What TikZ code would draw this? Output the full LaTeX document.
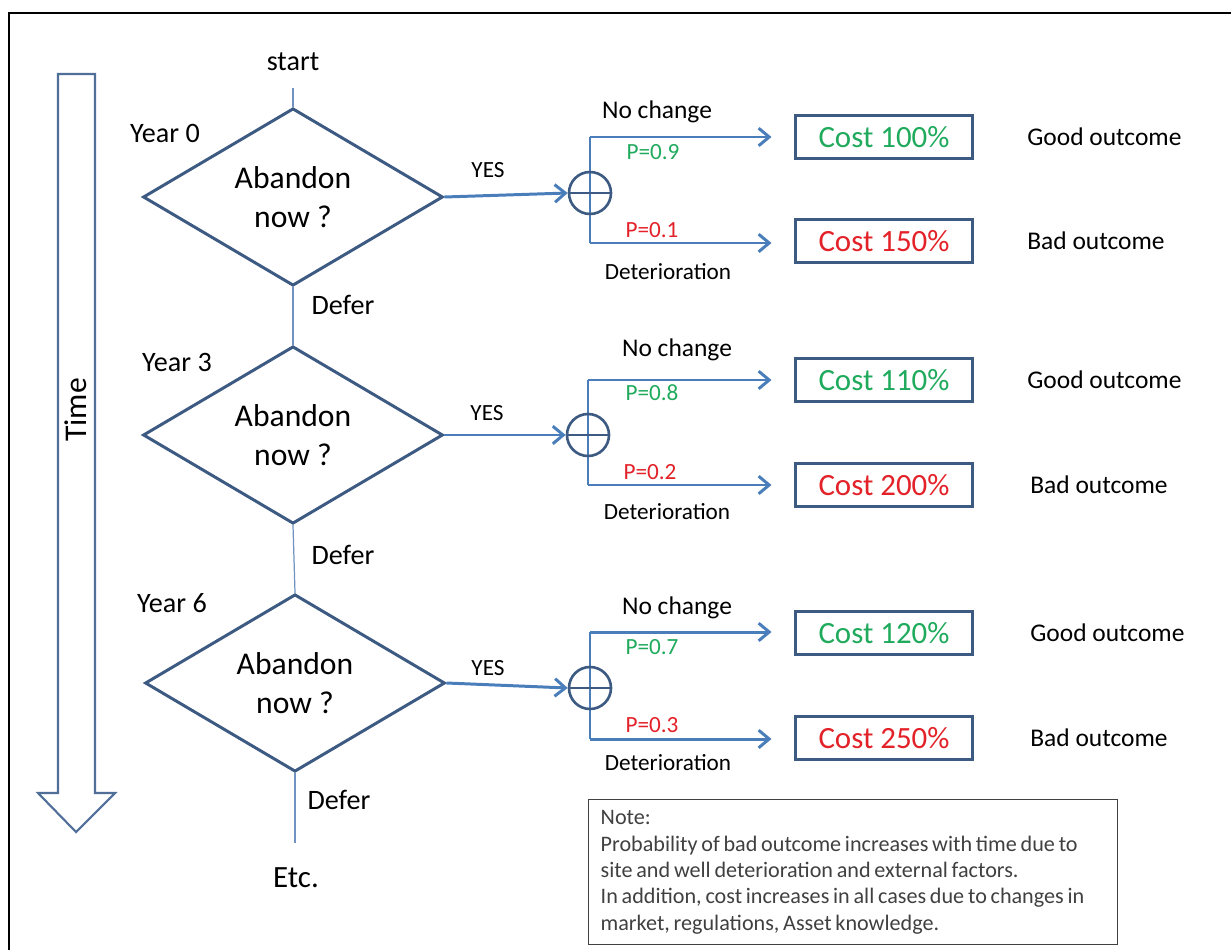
\documentclass[tikz,border=0pt]{standalone}
\usepackage{fontspec}
\setmainfont{Carlito}
\usetikzlibrary{shapes.geometric,arrows.meta}
\definecolor{arrblue}{HTML}{4A7EBB}
\definecolor{dkblue}{HTML}{3D5A82}
\definecolor{thinblue}{HTML}{7093C2}
\definecolor{okgreen}{HTML}{1FAA5C}
\definecolor{badred}{HTML}{E32128}
\definecolor{timeblue}{HTML}{4F6F99}
\definecolor{notegray}{HTML}{404040}
\newcommand\mynotespacing{\spaceskip=0.17em plus 0.05em minus 0.03em\relax}
\begin{document}
\begin{tikzpicture}[x=0.02cm,y=-0.02cm,
 decision/.style={diamond, draw=dkblue, line width=1.7pt, minimum width=6cm, minimum height=3.2cm, inner sep=0pt, align=center, font=\fontsize{18}{22}\selectfont},
 costbox/.style={draw=dkblue, line width=1.7pt, minimum width=3.56cm, minimum height=0.86cm, inner sep=0pt, font=\fontsize{17.6}{21}\selectfont},
 chance/.style={circle, draw=dkblue, line width=1.5pt, minimum size=0.84cm, inner sep=0pt},
 arr/.style={draw=arrblue, line width=1.7pt, -{Straight Barb[length=6pt,width=10pt]}},
 branch/.style={draw=arrblue, line width=1.7pt},
 deferline/.style={draw=thinblue, line width=0.7pt},
 big/.style={font=\fontsize{16}{19}\selectfont, inner sep=0pt},
 mid/.style={font=\fontsize{14.5}{17}\selectfont, inner sep=0pt},
 small/.style={font=\fontsize{13.2}{16}\selectfont, inner sep=0pt},
]
\useasboundingbox (0,0) rectangle (1231,950);
% frame
\draw[line width=1.7pt] (9,952) -- (9,13) -- (1233,13);

% time arrow
\draw[draw=timeblue, line width=1.2pt, fill=white, line join=miter]
  (58,74) -- (95,74) -- (95,793) -- (115,793) -- (76,832) -- (38,793) -- (58,793) -- cycle;
\node[rotate=90, font=\fontsize{18}{21}\selectfont, inner sep=0pt] (time) at (76,410) {Time};

% decisions
\node[big] (start) at (293,62) {start};
\coordinate (s1) at (293,88);
\node[decision] (d1) at (293,197) {Abandon\\now ?};
\node[decision] (d2) at (293,435) {Abandon\\now ?};
\node[decision] (d3) at (295,683) {Abandon\\now ?};
\coordinate (e3) at (295,843);
\node[font=\fontsize{17.6}{21}\selectfont, inner sep=0pt] (etc) at (296,878) {Etc.};

\node[big] (y0) at (165,133) {Year 0};
\node[big] (y3) at (177,362) {Year 3};
\node[big] (y6) at (172,603) {Year 6};

\draw[deferline] (s1) -- (d1.north);
\draw[deferline] (d1.south) -- (d2.north);
\draw[deferline] (d2.south) -- (d3.north);
\draw[deferline] (d3.south) -- (e3);
\node[big] (df1) at (343,305) {Defer};
\node[big] (df2) at (343,555) {Defer};
\node[big] (df3) at (339,800) {Defer};

% group 1
\coordinate (t1) at (590,137);
\coordinate (b1) at (590,243);
\draw[branch] (t1) -- (b1);
\node[chance] (c1) at (590,193) {};
\draw[dkblue, line width=1.5pt] (c1.west) -- (c1.east);
\draw[arr] (d1.east) -- (c1.west);
\node[costbox, text=okgreen] (g1) at (884,137) {Cost 100\%};
\node[costbox, text=badred] (r1) at (884,241) {Cost 150\%};
\draw[arr, shorten >=0.44cm] (t1) -- (g1.west);
\draw[arr, shorten >=0.44cm] (b1) -- (b1 -| r1.west);
\node[small] (yes1) at (488,170) {YES};
\node[mid] (nc1) at (657,112) {No change};
\node[small, text=okgreen] (p1a) at (653,152) {P=0.9};
\node[small, text=badred] (p1b) at (652,230) {P=0.1};
\node[small] (det1) at (668,272) {Deterioration};
\node[mid, anchor=west] (go1) at (1027,137) {Good outcome};
\node[mid, anchor=west] (bo1) at (1027,241) {Bad outcome};

% group 2
\coordinate (t2) at (588,380);
\coordinate (b2) at (588,485);
\draw[branch] (t2) -- (b2);
\node[chance] (c2) at (588,435) {};
\draw[dkblue, line width=1.5pt] (c2.west) -- (c2.east);
\draw[arr] (d2.east) -- (c2.west);
\node[costbox, text=okgreen] (g2) at (884,380) {Cost 110\%};
\node[costbox, text=badred] (r2) at (884,485) {Cost 200\%};
\draw[arr, shorten >=0.44cm] (t2) -- (g2.west);
\draw[arr, shorten >=0.44cm] (b2) -- (r2.west);
\node[small] (yes2) at (487,413) {YES};
\node[mid] (nc2) at (677,350) {No change};
\node[small, text=okgreen] (p2a) at (652,393) {P=0.8};
\node[small, text=badred] (p2b) at (650,472) {P=0.2};
\node[small] (det2) at (667,512) {Deterioration};
\node[mid, anchor=west] (go2) at (1027,380) {Good outcome};
\node[mid, anchor=west] (bo2) at (1030,485) {Bad outcome};

% group 3
\coordinate (t3) at (590,632);
\coordinate (b3) at (590,739);
\draw[branch] (t3) -- (b3);
\node[chance] (c3) at (590,688) {};
\draw[dkblue, line width=1.5pt] (c3.west) -- (c3.east);
\draw[arr] (d3.east) -- (c3.west);
\node[costbox, text=okgreen] (g3) at (884,633) {Cost 120\%};
\node[costbox, text=badred] (r3) at (884,738) {Cost 250\%};
\draw[arr, shorten >=0.44cm] (t3) -- (t3 -| g3.west);
\draw[arr, shorten >=0.44cm] (b3) -- (b3 -| r3.west);
\node[small] (yes3) at (488,668) {YES};
\node[mid] (nc3) at (677,608) {No change};
\node[small, text=okgreen] (p3a) at (652,647) {P=0.7};
\node[small, text=badred] (p3b) at (652,725) {P=0.3};
\node[small] (det3) at (668,763) {Deterioration};
\node[mid, anchor=west] (go3) at (1030,633) {Good outcome};
\node[mid, anchor=west] (bo3) at (1030,738) {Bad outcome};

% note
\node[draw=notegray, line width=0.8pt, anchor=north west, minimum width=10.58cm, minimum height=2.9cm,
      text width=10.1cm, inner xsep=0.24cm, inner ysep=2pt, align=left,
      text=notegray, font=\fontsize{12.6}{15}\selectfont] (note) at (588,799)
  {\mynotespacing Note:\\Probability of bad outcome increases with time due to\\site and well deterioration and external factors.\\In addition, cost increases in all cases due to changes in\\market, regulations, Asset knowledge.};
\end{tikzpicture}
\end{document}
